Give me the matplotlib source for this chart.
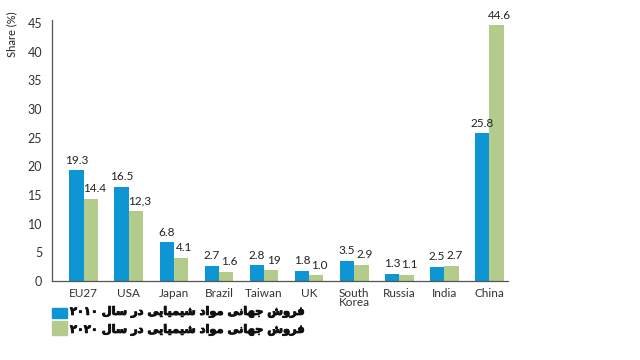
import matplotlib
matplotlib.use("Agg")
import matplotlib.pyplot as plt
import matplotlib.patheffects as pe
import numpy as np

categories = ["EU27", "USA", "Japan", "Brazil", "Taiwan", "UK", "South\nKorea", "Russia", "India", "China"]
share_2010 = [19.3, 16.5, 6.8, 2.7, 2.8, 1.8, 3.5, 1.3, 2.5, 25.8]
share_2020 = [14.4, 12.3, 4.1, 1.6, 1.9, 1.0, 2.9, 1.1, 2.7, 44.6]
labels_2010 = ["19.3", "16.5", "6.8", "2.7", "2.8", "1.8", "3.5", "1.3", "2.5", "25.8"]
labels_2020 = ["14.4", "12,3", "4.1", "1.6", "19", "1.0", "2.9", "1.1", "2.7", "44.6"]
yticks = [0, 5, 10, 15, 20, 25, 30, 35, 40, 45]

# Persian legend text, shaped manually with Arabic presentation forms (visual order)
def visual(codes):
    return "".join(chr(c) for c in reversed(codes))

w_forush = [0xFED3, 0xFEAE, 0xFEED, 0xFEB5]                      # فروش
w_jahani = [0xFE9F, 0xFEEC, 0xFE8E, 0xFEE7, 0xFEF0]              # جهانی
w_mavad = [0xFEE3, 0xFEEE, 0xFE8D, 0xFEA9]                       # مواد
w_shimiaei = [0xFEB7, 0xFEF4, 0xFEE4, 0xFEF4, 0xFE8E, 0xFEF3, 0xFEF0]  # شیمیایی
w_dar = [0xFEA9, 0xFEAD]                                          # در
w_sal = [0xFEB3, 0xFE8E, 0xFEDD]                                  # سال

def legend_text(year_digits):
    words = [w_forush, w_jahani, w_mavad, w_shimiaei, w_dar, w_sal]
    return year_digits + " " + " ".join(visual(w) for w in reversed(words))

legend_2010 = legend_text("\u06F2\u06F0\u06F1\u06F0")
legend_2020 = legend_text("\u06F2\u06F0\u06F2\u06F0")

blue = "#0e95d3"
green = "#b3cb8b"
plt.rcParams['font.family'] = ['Lato', 'DejaVu Sans']

fig = plt.figure(figsize=(6.4, 3.6), dpi=100)
ax = fig.add_axes([0.081, 0.219, 0.713, 0.725])

x = np.arange(len(categories))
bw = 0.32
ax.bar(x - bw / 2, share_2010, bw, color=blue)
ax.bar(x + bw / 2, share_2020, bw, color=green)

for xi, v, t in zip(x, share_2010, labels_2010):
    ax.text(xi - bw / 2, v + 0.8, t, ha="center", va="bottom", fontsize=8.5, color="#222222")
for xi, v, t in zip(x, share_2020, labels_2020):
    ax.text(xi + bw / 2 + 0.07, v + 0.8, t, ha="center", va="bottom", fontsize=8.5, color="#222222")

ax.set_xlim(-0.71, 9.42)
ax.set_ylim(0, 45.5)
ax.set_yticks(yticks)
ax.set_xticks(x)
ax.set_xticklabels(categories, fontsize=8.5, linespacing=0.8)
ax.tick_params(axis="both", length=0, labelsize=8.5, colors="#333333")
ax.tick_params(axis="y", labelsize=9)
ax.tick_params(axis="x", pad=5)
ax.tick_params(axis="y", pad=7)
for s in ["top", "right"]:
    ax.spines[s].set_visible(False)
for s in ["left", "bottom"]:
    ax.spines[s].set_color("#555555")
    ax.spines[s].set_linewidth(0.9)

fig.text(0.019, 0.905, "Share (%)", rotation=90, ha="center", va="center", fontsize=8, color="#222222")

# legend
fig.patches.append(plt.Rectangle((52 / 640, 1 - 318 / 360), 15 / 640, 10 / 360, color=blue, transform=fig.transFigure, figure=fig))
fig.patches.append(plt.Rectangle((52 / 640, 1 - 335 / 360), 15 / 640, 14 / 360, color=green, transform=fig.transFigure, figure=fig))
stroke = [pe.withStroke(linewidth=0.7, foreground="#111111")]
fig.text(70 / 640, 1 - 312 / 360, legend_2010, ha="left", va="center", fontsize=8.2,
         fontweight="bold", family="DejaVu Sans", color="#111111", path_effects=stroke)
fig.text(70 / 640, 1 - 330 / 360, legend_2020, ha="left", va="center", fontsize=8.2,
         fontweight="bold", family="DejaVu Sans", color="#111111", path_effects=stroke)

fig.savefig("out.png", dpi=100)
